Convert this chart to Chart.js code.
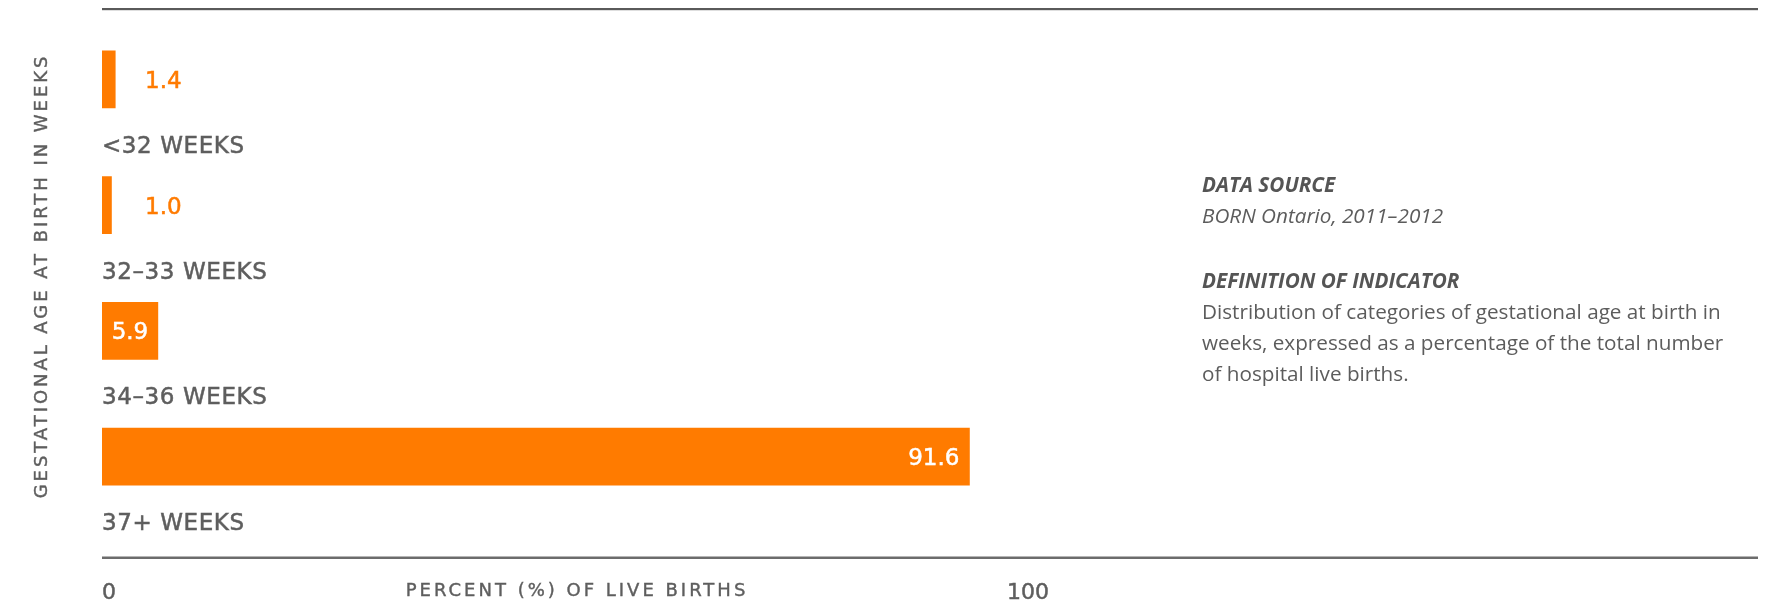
<!DOCTYPE html>
<html>
<head>
<meta charset="utf-8">
<script src="https://cdn.jsdelivr.net/npm/chart.js@4"></script>
<style>
  html, body { margin: 0; padding: 0; background: #fff; }
  #wrap { position: relative; width: 1766px; height: 607px; overflow: hidden; }
  #grafico { position: absolute; left: 0; top: 0; }
  #notas {
    position: absolute; left: 1202px; top: 169px;
    font-family: "Open Sans", sans-serif; font-size: 20.7px; line-height: 31px;
    color: #5c5c5c; white-space: nowrap;
  }
  #notas .tit { font-weight: 700; font-style: italic; color: #555; }
  #notas .it { font-style: italic; }
  #notas .bloco2 { margin-top: 34px; }
</style>
</head>
<body>
<div id="wrap">
  <canvas id="grafico" width="1766" height="607"></canvas>
  <div id="notas">
    <div class="tit">DATA SOURCE</div>
    <div class="it">BORN Ontario, 2011–2012</div>
    <div class="bloco2">
      <div class="tit">DEFINITION OF INDICATOR</div>
      <div>Distribution of categories of gestational age at birth in</div>
      <div>weeks, expressed as a percentage of the total number</div>
      <div>of hospital live births.</div>
    </div>
  </div>
</div>
<script>
const categorias = ['<32 WEEKS', '32–33 WEEKS', '34–36 WEEKS', '37+ WEEKS'];
const valores = [1.4, 1.0, 5.9, 91.6];
const ticksX = [0, 100];
const tituloX = 'PERCENT (%) OF LIVE BIRTHS';
const tituloY = 'GESTATIONAL AGE AT BIRTH IN WEEKS';

const laranja = '#FF7B00';
const cinza = '#5e5e5e';

// texto com traço fino para ficar um pouco mais encorpado
function texto(ctx, s, x, y, cor, traco) {
  ctx.fillStyle = cor;
  ctx.fillText(s, x, y);
  ctx.strokeStyle = cor;
  ctx.lineWidth = traco;
  ctx.strokeText(s, x, y);
}

// textos, linhas e rótulos desenhados depois das barras
const rotulos = {
  id: 'rotulos',
  afterDraw(chart) {
    const ctx = chart.ctx;
    const area = chart.chartArea;
    const xs = chart.scales.x;
    const meta = chart.getDatasetMeta(0);
    const fim = chart.width - 8;

    ctx.save();
    // linhas de cima e de baixo
    ctx.fillStyle = '#5a5a5a';
    ctx.fillRect(area.left, area.top - 8.5, fim - area.left, 2.2);
    ctx.fillStyle = '#6c6c6c';
    ctx.fillRect(area.left, area.bottom + 37, fim - area.left, 2.5);

    meta.data.forEach(function(barra, i) {
      const v = valores[i];
      const larg = barra.x - barra.base;
      ctx.font = '23px "DejaVu Sans"';
      ctx.textBaseline = 'alphabetic';
      const y = barra.y + 8.5;
      if (larg < 40) {
        ctx.textAlign = 'left';
        texto(ctx, v.toFixed(1), barra.base + 43, y, laranja, 0.5);
      } else if (larg < 120) {
        ctx.textAlign = 'center';
        texto(ctx, v.toFixed(1), (barra.x + barra.base) / 2, y, '#fff', 0.5);
      } else {
        ctx.textAlign = 'right';
        texto(ctx, v.toFixed(1), barra.x - 10, y, '#fff', 0.5);
      }
      // nome da categoria embaixo da barra
      ctx.textAlign = 'left';
      ctx.letterSpacing = '0.6px';
      texto(ctx, categorias[i], area.left, barra.y + 73.5, cinza, 0.5);
      ctx.letterSpacing = '0px';
    });

    // ticks 0 e 100
    ctx.font = '22px "DejaVu Sans"';
    ticksX.forEach(function(t, i) {
      ctx.textAlign = i === 0 ? 'left' : 'right';
      texto(ctx, String(t), xs.getPixelForValue(t), area.bottom + 79, cinza, 0.5);
    });

    // títulos dos eixos
    ctx.font = '18px "DejaVu Sans"';
    ctx.letterSpacing = '3px';
    ctx.textAlign = 'center';
    texto(ctx, tituloX, 577, area.bottom + 76, cinza, 0.4);
    ctx.letterSpacing = '2.95px';
    ctx.translate(47, 276);
    ctx.rotate(-Math.PI / 2);
    texto(ctx, tituloY, 0, 0, cinza, 0.4);
    ctx.restore();
  }
};

const grafico = new Chart(document.getElementById('grafico').getContext('2d'), {
  type: 'bar',
  data: {
    labels: categorias,
    datasets: [{
      data: valores,
      backgroundColor: laranja,
      borderWidth: 0,
      barThickness: 57
    }]
  },
  options: {
    indexAxis: 'y',
    responsive: false,
    animation: false,
    devicePixelRatio: 1,
    layout: { padding: { left: 102, right: 717, top: 16.5, bottom: 87.5 } },
    plugins: { legend: { display: false }, tooltip: { enabled: false } },
    scales: {
      x: { type: 'linear', min: 0, max: 100, display: false },
      y: { type: 'category', offset: true, display: false }
    }
  },
  plugins: [rotulos]
});
</script>
</body>
</html>
